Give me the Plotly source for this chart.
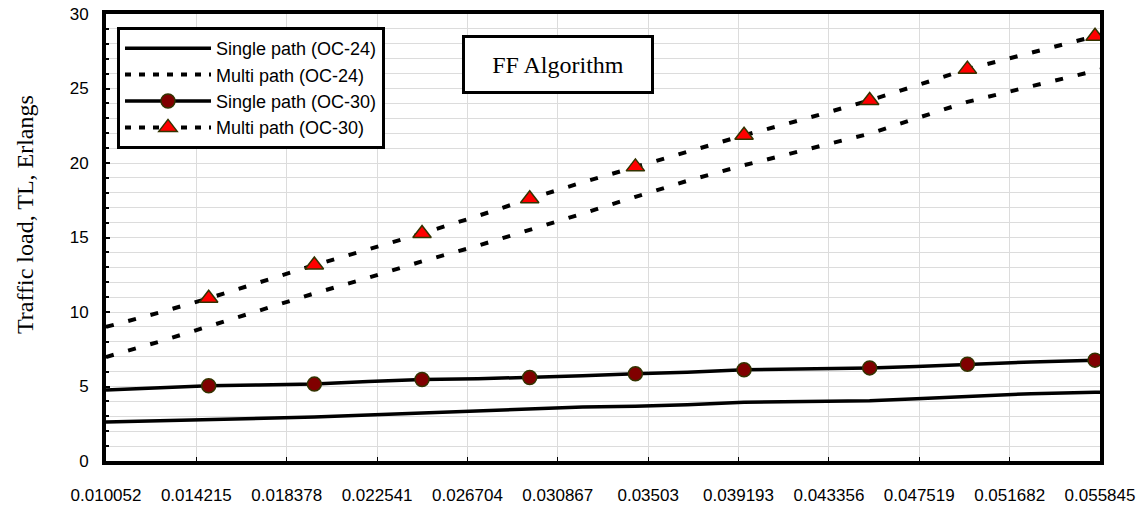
import plotly.graph_objects as go

# Tick labels of the traffic-intensity axis
x_tick_labels = ["0.010052", "0.014215", "0.018378", "0.022541", "0.026704", "0.030867",
                 "0.03503", "0.039193", "0.043356", "0.047519", "0.051682", "0.055845"]

# Sampled traffic intensity values
traffic_intensity = [0.010052, 0.012486, 0.014783, 0.017079, 0.019651, 0.022132, 0.024612,
                     0.027184, 0.029572, 0.032007, 0.034441, 0.036829, 0.039447, 0.042341,
                     0.045234, 0.047393, 0.049736, 0.052675, 0.055615, 0.056120]

# Traffic load (Erlangs) for each routing case
single_oc24 = [2.62, 2.70, 2.78, 2.86, 2.95, 3.08, 3.22, 3.40, 3.53, 3.62, 3.68, 3.77,
               3.95, 4.00, 4.04, 4.17, 4.30, 4.52, 4.62, 4.62]
multi_oc24 = [6.98, 8.00, 9.04, 10.10, 11.25, 12.30, 13.40, 14.45, 15.50, 16.60, 17.73,
              18.80, 19.85, 20.90, 21.97, 23.00, 24.10, 25.15, 26.20, 26.35]
single_oc30 = [4.76, 4.92, 5.05, 5.10, 5.16, 5.33, 5.47, 5.52, 5.60, 5.72, 5.85, 5.95,
               6.12, 6.18, 6.25, 6.35, 6.50, 6.65, 6.77, 6.78]
multi_oc30 = [9.00, 9.95, 10.92, 12.00, 13.15, 14.20, 15.27, 16.45, 17.60, 18.70, 19.74,
              20.80, 21.86, 23.00, 24.20, 25.20, 26.30, 27.40, 28.50, 28.70]

# Samples that carry a marker on the OC-30 curves
marker_idx = [2, 4, 6, 8, 10, 12, 14, 16, 18]

series_names = ["Single path (OC-24)", "Multi path (OC-24)",
                "Single path (OC-30)", "Multi path (OC-30)"]

SOLID_W = 3.5
DASH_W = 4
DASH = "8px,15px"
circle_marker = dict(symbol="circle", size=14, color="#800000",
                     line=dict(color="#333300", width=1.5))
triangle_marker = dict(symbol="triangle-up", size=16, color="#ff0000",
                       line=dict(color="#333300", width=1.5))

fig = go.Figure()

# Curves
fig.add_trace(go.Scatter(x=traffic_intensity, y=single_oc24, mode="lines",
                         line=dict(color="black", width=SOLID_W),
                         showlegend=False, hoverinfo="skip"))
fig.add_trace(go.Scatter(x=traffic_intensity, y=multi_oc24, mode="lines",
                         line=dict(color="black", width=DASH_W, dash=DASH),
                         showlegend=False, hoverinfo="skip"))
fig.add_trace(go.Scatter(x=traffic_intensity, y=single_oc30, mode="lines",
                         line=dict(color="black", width=SOLID_W),
                         showlegend=False, hoverinfo="skip"))
fig.add_trace(go.Scatter(x=traffic_intensity, y=multi_oc30, mode="lines",
                         line=dict(color="black", width=DASH_W, dash=DASH),
                         showlegend=False, hoverinfo="skip"))

# Markers on the OC-30 curves
fig.add_trace(go.Scatter(x=[traffic_intensity[i] for i in marker_idx],
                         y=[single_oc30[i] for i in marker_idx],
                         mode="markers", marker=circle_marker, showlegend=False))
fig.add_trace(go.Scatter(x=[traffic_intensity[i] for i in marker_idx],
                         y=[multi_oc30[i] for i in marker_idx],
                         mode="markers", marker=triangle_marker, showlegend=False))

# Legend entries
legend_styles = [
    dict(mode="lines", line=dict(color="black", width=SOLID_W)),
    dict(mode="lines", line=dict(color="black", width=DASH_W, dash="6px,8px")),
    dict(mode="lines+markers", line=dict(color="black", width=SOLID_W), marker=circle_marker),
    dict(mode="lines+markers", line=dict(color="black", width=DASH_W, dash="6px,8px"),
         marker=triangle_marker),
]
for rank, (name, style) in enumerate(zip(series_names, legend_styles)):
    fig.add_trace(go.Scatter(x=[None], y=[None], name=name, legendrank=rank + 1, **style))

L, R, T, B = 106, 44, 14, 46
W, H = 1144, 507
pw, ph = W - L - R, H - T - B

def px_x(p):
    return (p - L) / pw

def px_y(p):
    return 1 - (p - T) / ph

fig.update_layout(
    width=W, height=H,
    margin=dict(l=L, r=R, t=T, b=B, autoexpand=False),
    paper_bgcolor="white", plot_bgcolor="white",
    font=dict(family="Liberation Sans, Arial, sans-serif", color="black"),
    showlegend=True,
    legend=dict(x=px_x(117), y=px_y(27), xanchor="left", yanchor="top",
                bgcolor="white", bordercolor="black", borderwidth=3,
                font=dict(size=18, family="Liberation Sans, Arial, sans-serif"),
                itemwidth=86, traceorder="normal"),
    xaxis=dict(
        range=[0.010052, 0.055845], automargin=False,
        tickvals=[float(t) for t in x_tick_labels], ticktext=x_tick_labels,
        tickfont=dict(size=17), ticks="inside", ticklen=4, tickwidth=1, tickcolor="black",
        showline=True, linecolor="black", linewidth=4, mirror=True,
        showgrid=True, gridcolor="#dcdcdc", gridwidth=1,
        zeroline=False, ticklabelstandoff=16,
    ),
    yaxis=dict(
        range=[0, 30], dtick=5, tick0=0, automargin=False,
        tickfont=dict(size=17), ticks="inside", ticklen=4, tickwidth=2, tickcolor="black",
        showline=True, linecolor="black", linewidth=4, mirror=True,
        showgrid=True, gridcolor="#dcdcdc", gridwidth=1,
        minor=dict(dtick=1, showgrid=True, gridcolor="#dcdcdc", gridwidth=1,
                   ticks="inside", ticklen=3, tickcolor="black"),
        zeroline=False, ticklabelstandoff=10,
    ),
    annotations=[
        dict(text="Traffic load, TL, Erlangs", xref="paper", yref="paper",
             x=px_x(25), y=px_y(215), xanchor="center", yanchor="middle", textangle=-90,
             showarrow=False, font=dict(family="Liberation Serif, Times New Roman, serif",
                                        size=24, color="black")),
        dict(text="FF Algorithm", xref="paper", yref="paper",
             x=px_x(557.5), y=px_y(64), xanchor="center", yanchor="middle",
             showarrow=False, width=186, height=53, borderpad=0,
             bordercolor="black", borderwidth=3, bgcolor="white",
             font=dict(family="Liberation Serif, Times New Roman, serif",
                       size=24, color="black")),
    ],
)

fig.write_html("out.html")
